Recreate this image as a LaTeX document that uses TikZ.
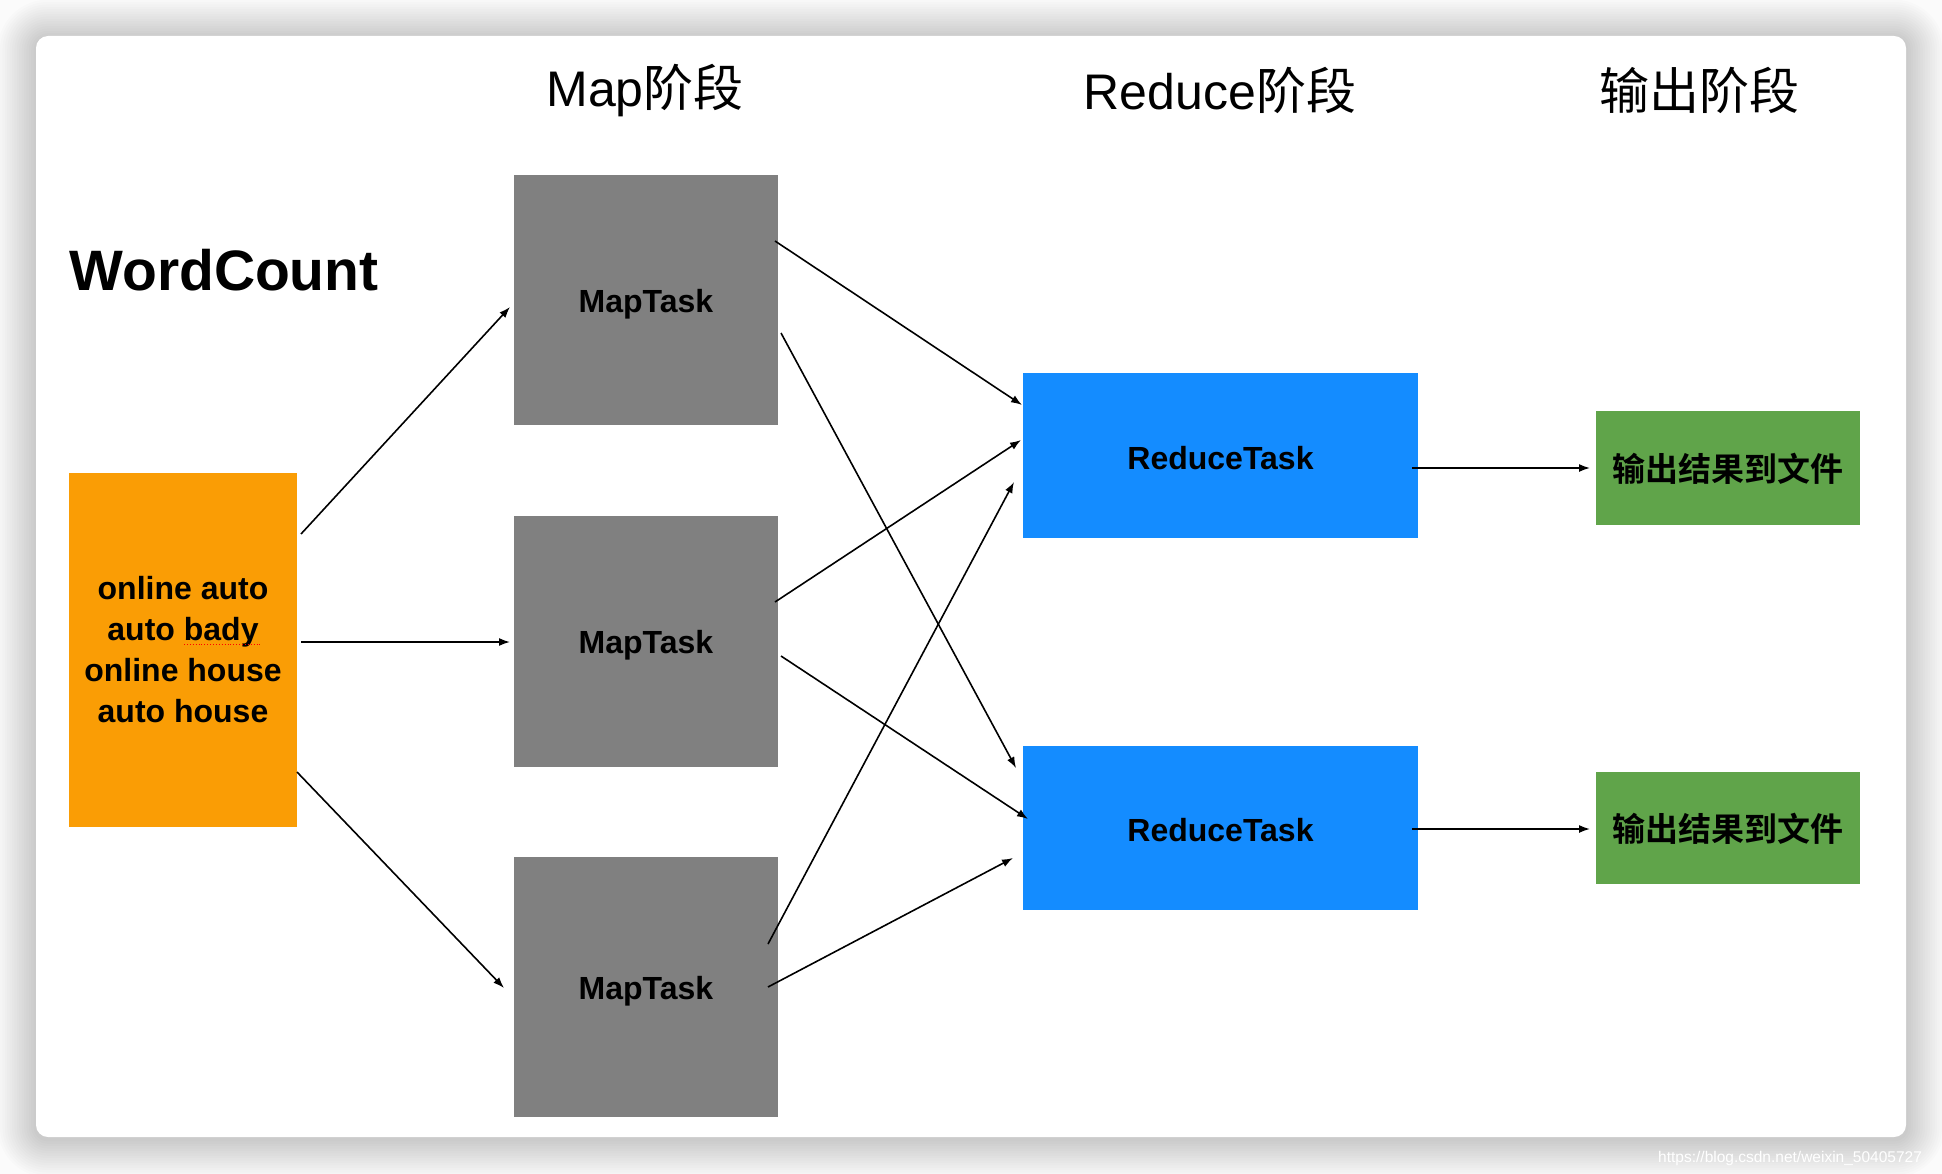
\documentclass[tikz,border=0pt]{standalone}
\usepackage{fontspec}
\setmainfont{Liberation Sans}
\newfontfamily\cjk[BoldFont={Noto Sans CJK SC Bold}]{Noto Sans CJK SC}
\usetikzlibrary{arrows.meta}
\definecolor{maporange}{RGB}{250,157,5}
\definecolor{mapgray}{RGB}{128,128,128}
\definecolor{redblue}{RGB}{20,140,255}
\definecolor{outgreen}{RGB}{96,164,74}
\newcommand{\lowered}[2]{\raisebox{-#1}[\height][\depth]{#2}}
\tikzset{
  box/.style={inner sep=0pt, outer sep=0pt, font=\fontsize{32}{41}\selectfont\bfseries, text=black, align=center},
  mapbox/.style={box, fill=mapgray, minimum width=264pt},
  redbox/.style={box, fill=redblue, minimum width=395pt, minimum height=165pt},
  outbox/.style={box, fill=outgreen, minimum width=264pt, font=\fontsize{33}{40}\selectfont\cjk\bfseries},
  title/.style={inner sep=0pt, font=\fontsize{50}{60}\selectfont},
  arr/.style={-{Latex[length=11pt,width=8pt]}, line width=1.6pt, black},
}
\begin{document}
\begin{tikzpicture}[x=1pt,y=-1pt]
\useasboundingbox (0,0) rectangle (1942,1174);
\fill[gray!3] (0,0) rectangle (1942,1174);
% soft shadow around the frame
\foreach \i in {1,...,16}{
  \fill[black, opacity=0.012, rounded corners={12pt+\i*2.4pt}]
    (36-\i*2.4, 38-\i*2.4) rectangle (1906+\i*2.4, 1139+\i*2.4);
}
\fill[white, rounded corners=12pt] (36,36) rectangle (1906,1137);
% watermark
\node[anchor=base west, inner sep=0pt, text=white, font=\fontsize{15.5}{18}\selectfont] (wm) at (1658,1162) {https://blog.csdn.net/weixin\_50405727};

% titles
\node[title] (t1) at (645,91) {Map{\cjk 阶段}};
\node[title] (t2) at (1220,90) {Reduce{\cjk 阶段}};
\node[title] (t3) at (1699,90) {{\cjk 输出阶段}};
\node[inner sep=0pt, font=\fontsize{57}{60}\selectfont\bfseries] (wc) at (224,270) {WordCount};

% nodes
\node[box, fill=maporange, minimum width=228pt, minimum height=354pt] (in) at (183,650) {online auto\\auto bady\\online house\\auto house};
\draw[red, dotted, line width=0.9pt] (184,644) -- (262,644);

\node[mapbox, minimum height=250pt] (m1) at (646,300) {\lowered{4.5pt}{MapTask}};
\node[mapbox, minimum height=251pt] (m2) at (646,641.5) {\lowered{4pt}{MapTask}};
\node[mapbox, minimum height=260pt] (m3) at (646,987) {\lowered{4pt}{MapTask}};

\node[redbox] (r1) at (1220.5,455.5) {\lowered{2.5pt}{ReduceTask}};
\node[redbox, minimum height=164pt] (r2) at (1220.5,828) {\lowered{2pt}{ReduceTask}};

\node[outbox, minimum height=114pt] (g1) at (1728,468) {\lowered{1pt}{输出结果到文件}};
\node[outbox, minimum height=112pt] (g2) at (1728,828) {\lowered{1pt}{输出结果到文件}};

% connector end points
\coordinate (a1s) at (301,534);  \coordinate (a1e) at (510,307);
\coordinate (a2s) at (301,642);  \coordinate (a2e) at (510,642);
\coordinate (a3s) at (297,772);  \coordinate (a3e) at (504,988);
\coordinate (b1s) at (775,241);  \coordinate (b1e) at (1022,405);
\coordinate (b2s) at (781,333);  \coordinate (b2e) at (1016,768);
\coordinate (b3s) at (775,602);  \coordinate (b3e) at (1021,440);
\coordinate (b4s) at (781,656);  \coordinate (b4e) at (1028,819);
\coordinate (b5s) at (768,944);  \coordinate (b5e) at (1014,482);
\coordinate (b6s) at (768,987);  \coordinate (b6e) at (1013,858);
\coordinate (c1s) at (1412,468); \coordinate (c1e) at (1590,468);
\coordinate (c2s) at (1412,829); \coordinate (c2e) at (1590,829);

\draw[arr] (a1s) -- (a1e);
\draw[arr] (a2s) -- (a2e);
\draw[arr] (a3s) -- (a3e);
\draw[arr] (b1s) -- (b1e);
\draw[arr] (b2s) -- (b2e);
\draw[arr] (b3s) -- (b3e);
\draw[arr] (b4s) -- (b4e);
\draw[arr] (b5s) -- (b5e);
\draw[arr] (b6s) -- (b6e);
\draw[arr] (c1s) -- (c1e);
\draw[arr] (c2s) -- (c2e);
\end{tikzpicture}
\end{document}
